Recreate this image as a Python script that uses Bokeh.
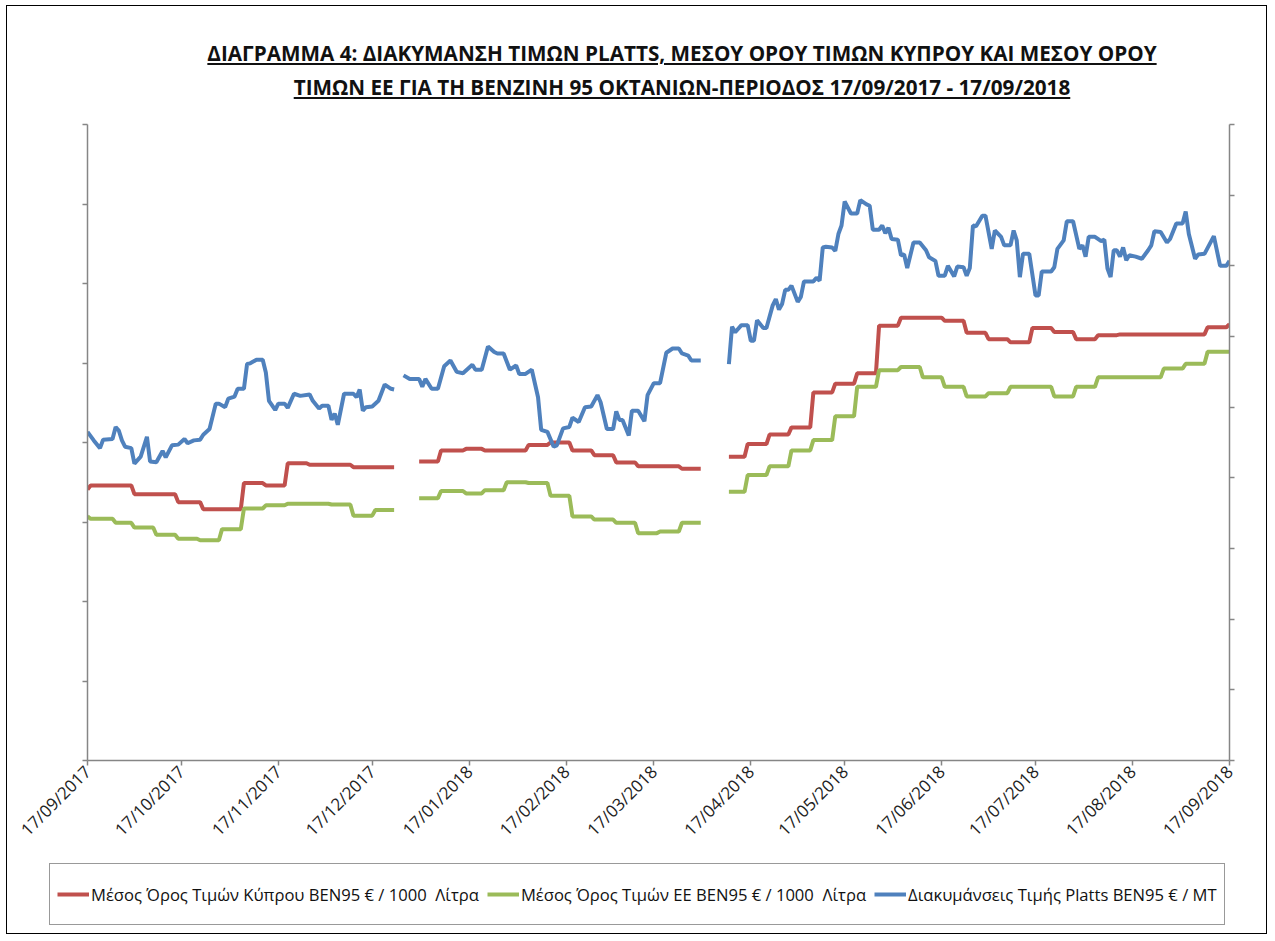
import calendar
from datetime import datetime
import math
from bokeh.plotting import figure
from bokeh.layouts import column
from bokeh.models import (Range1d, LinearAxis, FixedTicker, DatetimeTickFormatter,
                          Legend, LegendItem, Div)
from bokeh.embed import file_html
from bokeh.resources import INLINE

# ---------------- data ----------------
START_DATE = "2017-09-17"          # day 0 of all day counts below
month_ticks = ["2017-09-17", "2017-10-17", "2017-11-17", "2017-12-17", "2018-01-17",
               "2018-02-17", "2018-03-17", "2018-04-17", "2018-05-17", "2018-06-17",
               "2018-07-17", "2018-08-17", "2018-09-17"]
left_ticks = [0, 100, 200, 300, 400, 500, 600, 700, 800]            # € / 1000 L
right_ticks = [0, 100, 200, 300, 400, 500, 600, 700, 800, 900]      # € / MT

# Platts BEN95 €/MT  (days since START_DATE), three segments
platts_days_1 = [0, 2, 4, 5, 8, 9, 10, 11, 12, 14, 15, 17, 19, 20, 22, 24, 25, 27, 29, 31,
                 32, 34, 36, 37, 39, 41, 42, 44, 45, 47, 48, 50, 51, 52, 54, 56, 57, 58, 60, 61,
                 63, 64, 66, 68, 71, 72, 74, 75, 77, 78, 79, 80, 82, 85, 86, 87, 88, 89, 91, 93,
                 95, 97, 98]
platts_vals_1 = [465, 453, 442, 454, 455, 472, 467, 453, 444, 442, 420, 430, 458, 423, 422, 438, 429, 446, 447, 455,
                 449, 453, 454, 461, 469, 505, 505, 500, 512, 515, 526, 526, 561, 562, 567, 567, 549, 509, 496, 505,
                 505, 499, 519, 516, 518, 509, 498, 502, 502, 482, 491, 475, 519, 519, 514, 525, 495, 500, 501, 509,
                 532, 526, 525]
platts_days_2 = [101, 103, 106, 107, 108, 110, 112, 114, 116, 118, 120, 123, 124, 126, 128, 130, 131, 133, 135, 137,
                 138, 140, 142, 144, 145, 147, 149, 150, 152, 154, 155, 157, 159, 161, 163, 164, 166, 168, 169, 170,
                 171, 173, 174, 176, 178, 179, 181, 183, 185, 187, 189, 190, 192, 193, 196]
platts_vals_2 = [545, 540, 540, 529, 540, 526, 526, 558, 566, 550, 548, 560, 553, 553, 586, 578, 576, 576, 553, 559,
                 547, 547, 553, 514, 468, 465, 444, 446, 470, 472, 485, 479, 500, 501, 517, 507, 469, 469, 494, 482,
                 482, 460, 495, 495, 480, 517, 534, 534, 577, 583, 583, 576, 573, 566, 566]
platts_days_3 = [205, 206, 207, 209, 211, 212, 213, 214, 216, 217, 219, 220, 221, 222, 223, 224, 225, 227, 228, 229,
                 232, 233, 234, 235, 236, 238, 239, 240, 241, 242, 244, 246, 247, 249, 250, 251, 253, 254, 255, 256,
                 257, 259, 260, 261, 262, 264, 266, 268, 269, 271, 272, 274, 275, 277, 278, 280, 281, 282, 283, 284,
                 286, 287, 289, 290, 292, 293, 295, 296, 297, 298, 299, 301, 303, 304, 305, 308, 309, 310, 312, 313,
                 315, 317, 318, 319, 320, 322, 324, 325, 326, 327, 328, 329, 330, 331, 332, 333, 335, 337, 339, 340,
                 341, 343, 345, 346, 348, 350, 351, 352, 354, 355, 357, 360, 362, 364, 365]
platts_vals_3 = [561, 614, 606, 616, 616, 594, 594, 623, 612, 612, 644, 653, 638, 646, 666, 666, 672, 649, 656, 678,
                 678, 683, 679, 726, 727, 726, 721, 745, 757, 791, 774, 774, 793, 787, 785, 751, 751, 757, 746, 754,
                 738, 737, 715, 716, 697, 733, 733, 722, 712, 707, 686, 686, 700, 685, 699, 698, 686, 697, 757, 756,
                 771, 771, 724, 750, 741, 729, 729, 750, 736, 684, 717, 717, 658, 658, 692, 692, 698, 724, 736, 763,
                 763, 724, 729, 713, 741, 741, 735, 737, 696, 684, 722, 722, 713, 726, 708, 715, 713, 710, 722, 729,
                 749, 748, 733, 738, 760, 760, 777, 745, 710, 716, 717, 742, 700, 700, 707]

# Cyprus average BEN95 €/1000 L: weekly levels (start day, value), segment end day
cy_starts_1 = [0, 1, 15, 29, 37, 50, 57, 64, 71, 85]
cy_vals_1 = [341, 346, 335, 325, 316, 349, 346, 374, 372, 369]
cy_end_1 = 98
cy_starts_2 = [106, 113, 121, 127, 141, 148, 155, 162, 169, 176, 190]
cy_vals_2 = [376, 390, 392, 390, 397, 400, 390, 384, 375, 370, 367]
cy_end_2 = 196
cy_starts_3 = [205, 211, 218, 225, 232, 239, 246, 253, 260, 274, 281, 288, 295, 302, 309, 316, 323, 330, 358, 365]
cy_vals_3 = [382, 398, 410, 419, 463, 474, 487, 547, 557, 553, 538, 530, 526, 544, 539, 530, 535, 536, 545, 549]
cy_end_3 = 365

# EU average BEN95 €/1000 L
eu_starts_1 = [0, 1, 9, 15, 22, 29, 36, 43, 50, 57, 64, 78, 85, 92]
eu_vals_1 = [307, 304, 299, 293, 284, 279, 277, 291, 317, 321, 323, 322, 308, 315]
eu_end_1 = 98
eu_starts_2 = [106, 113, 121, 127, 134, 141, 148, 155, 162, 169, 176, 183, 190]
eu_vals_2 = [330, 339, 336, 340, 350, 349, 333, 307, 303, 299, 286, 288, 299]
eu_end_2 = 196
eu_starts_3 = [205, 211, 218, 225, 232, 239, 246, 253, 260, 267, 274, 281, 288, 295, 309, 316, 323, 344, 351, 358]
eu_vals_3 = [338, 359, 370, 390, 403, 433, 470, 491, 495, 482, 470, 458, 462, 470, 458, 470, 482, 493, 499, 514]
eu_end_3 = 365

title_1 = "ΔΙΑΓΡΑΜΜΑ 4: ΔΙΑΚΥΜΑΝΣΗ ΤΙΜΩΝ PLATTS, ΜΕΣΟΥ ΟΡΟΥ ΤΙΜΩΝ ΚΥΠΡΟΥ ΚΑΙ ΜΕΣΟΥ ΟΡΟΥ"
title_2 = "ΤΙΜΩΝ ΕΕ ΓΙΑ ΤΗ ΒΕΝΖΙΝΗ 95 ΟΚΤΑΝΙΩΝ-ΠΕΡΙΟΔΟΣ 17/09/2017 - 17/09/2018"
label_cy = "Μέσος Όρος Τιμών Κύπρου BEN95 € / 1000  Λίτρα"
label_eu = "Μέσος Όρος Τιμών ΕΕ BEN95 € / 1000  Λίτρα"
label_pl = "Διακυμάνσεις Τιμής Platts BEN95 € / MT"

# ---------------- helpers ----------------
DAY_MS = 86400000.0
NAN = float("nan")


def to_ms(s):
    return calendar.timegm(datetime.strptime(s, "%Y-%m-%d").timetuple()) * 1000.0


START_MS = to_ms(START_DATE)


def day_ms(d):
    return START_MS + d * DAY_MS


def join_segments(segs):
    xs, ys = [], []
    for i, (dx, vy) in enumerate(segs):
        if i:
            xs.append(NAN)
            ys.append(NAN)
        xs += [day_ms(d) for d in dx]
        ys += list(vy)
    return xs, ys


def steps(starts, vals, end):
    xs, ys = [], []
    for i, (s, v) in enumerate(zip(starts, vals)):
        e = starts[i + 1] - 1 if i + 1 < len(starts) else end
        xs.append(s)
        ys.append(v)
        if e > s:
            xs.append(e)
            ys.append(v)
    return xs, ys


pl_x, pl_y = join_segments([(platts_days_1, platts_vals_1), (platts_days_2, platts_vals_2),
                            (platts_days_3, platts_vals_3)])
cy_x, cy_y = join_segments([steps(cy_starts_1, cy_vals_1, cy_end_1), steps(cy_starts_2, cy_vals_2, cy_end_2),
                            steps(cy_starts_3, cy_vals_3, cy_end_3)])
eu_x, eu_y = join_segments([steps(eu_starts_1, eu_vals_1, eu_end_1), steps(eu_starts_2, eu_vals_2, eu_end_2),
                            steps(eu_starts_3, eu_vals_3, eu_end_3)])

# ---------------- main figure ----------------
AX = "#868686"
FONT = "Open Sans"
C_CY, C_EU, C_PL = "#C0504D", "#9BBB59", "#4F81BD"
W = 1259

p = figure(width=W, height=753, x_axis_type="datetime", output_backend="svg",
           toolbar_location=None, tools="",
           x_range=Range1d(to_ms(month_ticks[0]), to_ms(month_ticks[-1])),
           y_range=Range1d(left_ticks[0], left_ticks[-1]),
           min_border_left=80, min_border_right=37, min_border_top=18, min_border_bottom=99)
p.extra_y_ranges = {"platts": Range1d(right_ticks[0], right_ticks[-1])}
p.outline_line_color = None
p.xgrid.visible = False
p.ygrid.visible = False
p.background_fill_color = "white"
p.border_fill_color = "white"

xa = p.xaxis[0]
xa.ticker = FixedTicker(ticks=[to_ms(t) for t in month_ticks])
fmt = "%d/%m/%Y"
xa.formatter = DatetimeTickFormatter(milliseconds=fmt, seconds=fmt, minsec=fmt, minutes=fmt,
                                     hourmin=fmt, hours=fmt, days=fmt, months=fmt, years=fmt)
xa.major_label_orientation = math.pi / 4
xa.major_label_text_font = FONT
xa.major_label_text_font_size = "17px"
xa.major_label_text_color = "#222222"
xa.major_label_standoff = 3

ya = p.yaxis[0]
ya.ticker = FixedTicker(ticks=left_ticks)
ya.major_label_text_color = None

ra = LinearAxis(y_range_name="platts", ticker=FixedTicker(ticks=right_ticks))
ra.major_label_text_color = None
p.add_layout(ra, "right")

for ax in (xa, ya, ra):
    ax.axis_line_color = AX
    ax.axis_line_width = 1.5
    ax.major_tick_line_color = AX
    ax.major_tick_line_width = 1.5
    ax.major_tick_out = 5
    ax.major_tick_in = 0
    ax.minor_tick_line_color = None

p.line(cy_x, cy_y, line_color=C_CY, line_width=4)
p.line(eu_x, eu_y, line_color=C_EU, line_width=4)
p.line(pl_x, pl_y, line_color=C_PL, line_width=4, y_range_name="platts")

# ---------------- legend strip (separate canvas below the chart) ----------------
q = figure(width=W, height=74, output_backend="svg", toolbar_location=None, tools="",
           x_range=Range1d(0, 1), y_range=Range1d(0, 1),
           min_border=0, min_border_left=0, min_border_right=0, min_border_top=0, min_border_bottom=0)
try:
    q.frame_align = False
except Exception:
    pass
q.axis.visible = False
q.grid.visible = False
q.outline_line_color = None
q.background_fill_color = "white"
q.border_fill_color = "white"
# legend proxies: no visible data, only their styles are used for the key
k_cy = q.line([NAN], [NAN], line_color=C_CY, line_width=4)
k_eu = q.line([NAN], [NAN], line_color=C_EU, line_width=4)
k_pl = q.line([NAN], [NAN], line_color=C_PL, line_width=4)

legend = Legend(items=[LegendItem(label=label_cy, renderers=[k_cy]),
                       LegendItem(label=label_eu, renderers=[k_eu]),
                       LegendItem(label=label_pl, renderers=[k_pl])],
                location=(42, 8), orientation="horizontal",
                border_line_color="#333333", border_line_width=1.2,
                background_fill_color="white", background_fill_alpha=1,
                padding=7, spacing=8, margin=0,
                glyph_width=32, glyph_height=46, label_height=46, label_standoff=2,
                label_text_font=FONT, label_text_font_size="16.6px", label_text_color="#111111")
q.add_layout(legend)

# ---------------- title ----------------
title_html = (
    '<div style="box-sizing:border-box; width:1259px; padding-left:91px; padding-top:30px; text-align:center; '
    "font-family:'Open Sans', sans-serif; font-weight:bold; font-size:20.7px; line-height:34px; "
    'color:#111; text-decoration:underline; text-decoration-thickness:1.5px; '
    'text-underline-offset:2px; white-space:nowrap;">'
    + title_1 + "<br>" + title_2 + "</div>"
)
title_div = Div(text=title_html, width=W, height=100, margin=0)

layout = column(title_div, p, q, margin=(5, 0, 0, 6), spacing=0,
                styles={"border": "1.5px solid #000000", "background-color": "white"})

open("out.html", "w").write(file_html(layout, INLINE))
